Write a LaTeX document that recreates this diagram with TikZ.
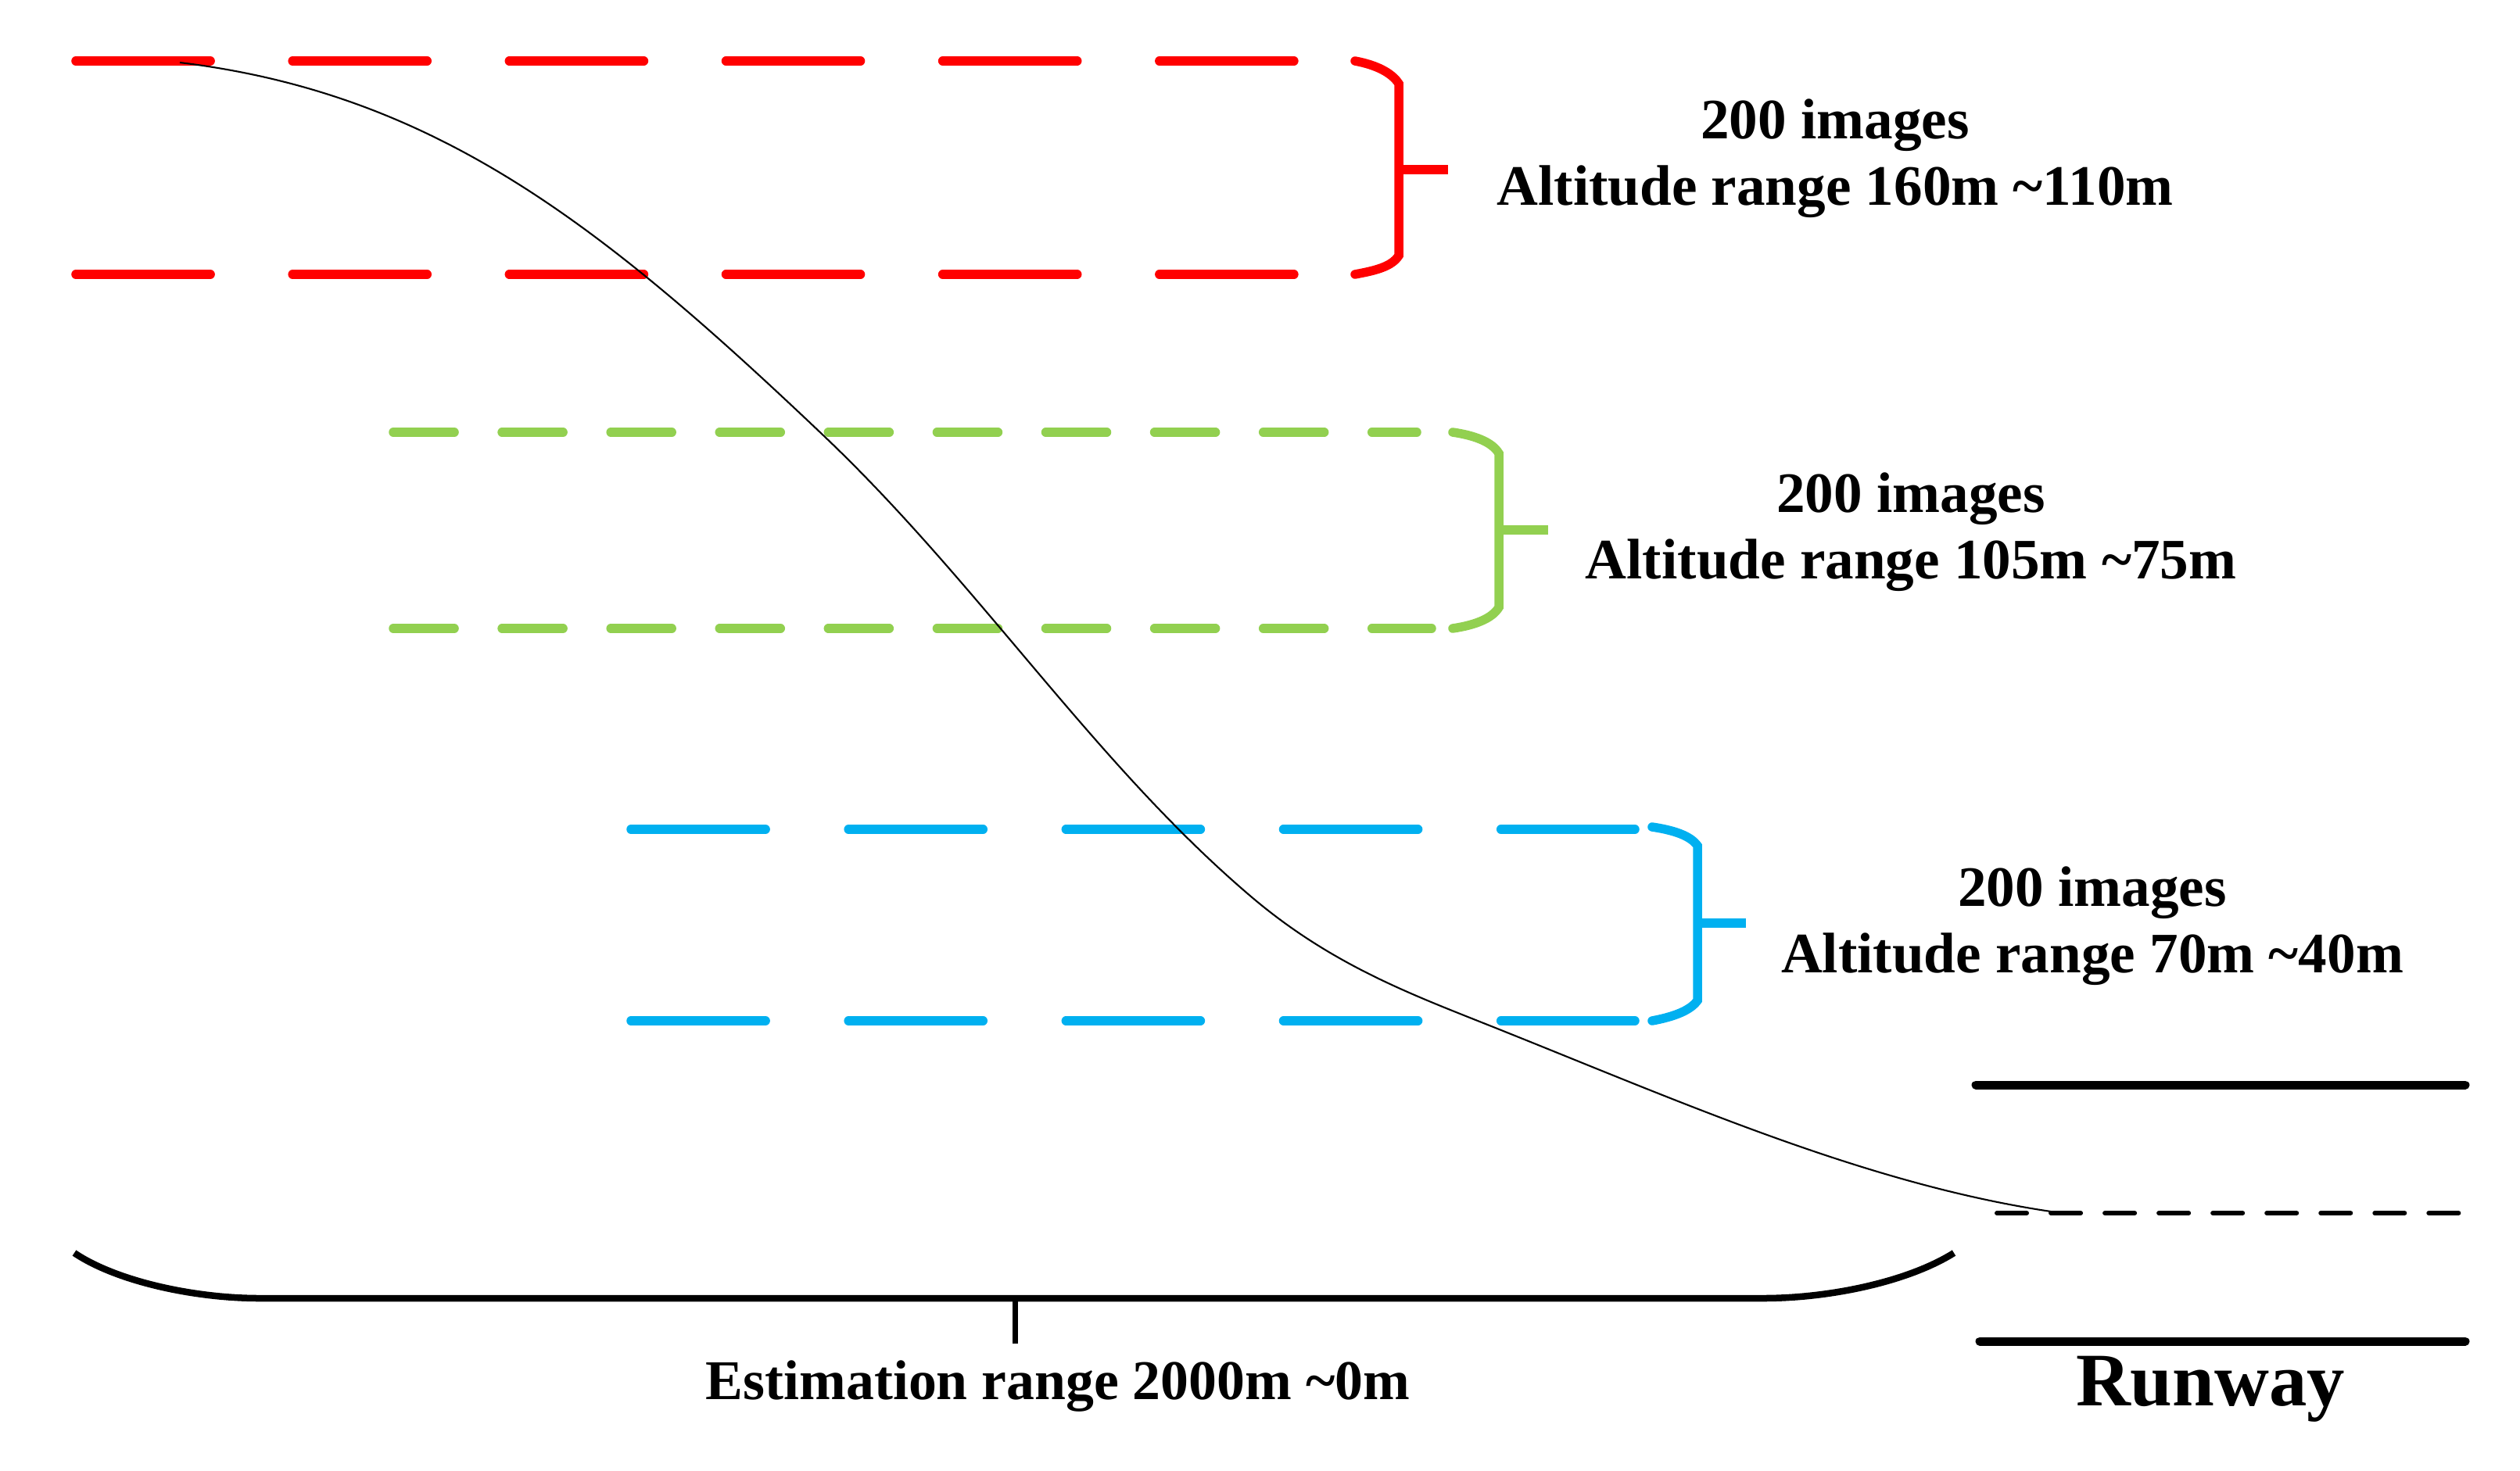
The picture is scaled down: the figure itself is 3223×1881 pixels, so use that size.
\documentclass[tikz,border=0pt]{standalone}
\usepackage{fontspec}
\setmainfont{Liberation Serif}
\usepackage{tikz}
\usetikzlibrary{positioning}

\definecolor{bandred}{RGB}{255,0,0}
\definecolor{bandgreen}{RGB}{146,208,80}
\definecolor{bandblue}{RGB}{0,176,240}

\tikzset{
    bandline/.style={line width=1.15mm, line cap=round},
    bandbrace/.style={line width=1.15mm, line cap=round},
    bandtick/.style={line width=1.15mm, line cap=butt},
    bandlabel/.style={font=\bfseries\fontsize{20.8}{24.2}\selectfont, align=center, inner sep=0pt},
}

\begin{document}
\begin{tikzpicture}[x=0.01cm, y=-0.01cm]
    \useasboundingbox (0,0) rectangle (3223,1881);

    % altitude bands
    \draw [bandline, bandred, dash pattern=on 17.2mm off 10.5mm] (97,78) -- (1655,78);
    \draw [bandline, bandred, dash pattern=on 17.2mm off 10.5mm] (97,351) -- (1655,351);
    \draw [bandbrace, bandred] (1733,78) .. controls (1760,83) and (1780,93) .. (1789,107) -- (1789,327) .. controls (1780,341) and (1760,346) .. (1733,351);
    \draw [bandtick, bandred] (1789,217) -- (1852,217);
    \node [bandlabel] (redtext) at (2347,203) {200 images\\Altitude range 160m \textasciitilde110m};

    \draw [bandline, bandgreen, dash pattern=on 7.8mm off 6.1mm] (503,553) -- (1812,553);
    \draw [bandline, bandgreen, dash pattern=on 7.8mm off 6.1mm] (503,804) -- (1831,804);
    \draw [bandbrace, bandgreen] (1858,553) .. controls (1885,557) and (1908,565) .. (1917,580) -- (1917,777) .. controls (1908,792) and (1885,800) .. (1858,804);
    \draw [bandtick, bandgreen] (1917,678) -- (1980,678);
    \node [bandlabel] (greentext) at (2444,681) {200 images\\Altitude range 105m \textasciitilde75m};

    \draw [bandline, bandblue, dash pattern=on 17.2mm off 10.6mm] (807,1061) -- (2091,1061);
    \draw [bandline, bandblue, dash pattern=on 17.2mm off 10.6mm] (807,1306) -- (2091,1306);
    \draw [bandbrace, bandblue] (2113,1058) .. controls (2140,1062) and (2162,1069) .. (2171,1082) -- (2171,1280) .. controls (2162,1293) and (2140,1301) .. (2113,1306);
    \draw [bandtick, bandblue] (2171,1181) -- (2233,1181);
    \node [bandlabel] (bluetext) at (2676,1185) {200 images\\Altitude range 70m \textasciitilde40m};

    % descent path
    \draw [line width=0.6pt] (230,80) .. controls (560,120) and (773,291) .. (1053,557)
        .. controls (1253,747) and (1400,977) .. (1600,1147)
        .. controls (1707,1238) and (1813,1275) .. (1920,1318)
        .. controls (2155,1412) and (2388,1515) .. (2623,1550);

    % runway
    \draw [line width=1.1mm, line cap=round] (2527,1388) -- (3153,1388);
    \draw [line width=0.6mm, line cap=round, dash pattern=on 3.8mm off 3.1mm] (2554,1552) -- (3150,1552);
    \draw [line width=1.1mm, line cap=round] (2532,1716) -- (3153,1716);
    \node [font=\bfseries\fontsize{27.5}{32}\selectfont, anchor=base] (runway) at (2827,1798) {Runway};

    % estimation range
    \draw [line width=0.85mm] (95,1603) .. controls (150,1640) and (250,1661) .. (332,1661) -- (2255,1661) .. controls (2340,1661) and (2440,1640) .. (2499,1603);
    \draw [line width=0.7mm] (1298,1661) -- (1298,1719);
    \node [bandlabel, font=\bfseries\fontsize{20.4}{24}\selectfont, anchor=base] (esttext) at (1353,1790) {Estimation range 2000m \textasciitilde0m};
\end{tikzpicture}
\end{document}
